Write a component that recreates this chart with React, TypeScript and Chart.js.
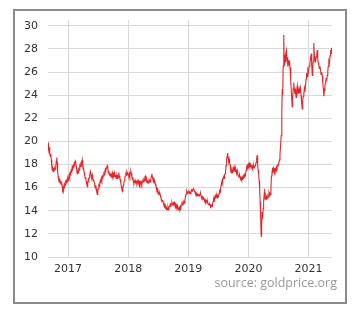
import React, { useEffect, useRef } from "react";
import { Chart, registerables } from "chart.js";

Chart.register(...registerables);

// Tick labels
const yTicks = [10, 12, 14, 16, 18, 20, 22, 24, 26, 28, 30];
const xTicks = [2017, 2018, 2019, 2020, 2021];
const xMin = 2016.667;
const xMax = 2021.39;
const yMin = 10;
const yMax = 30.5;
const sourceLabel = "source: goldprice.org";

// Silver price (USD/oz), [decimal year, price]
const silver2016: [number, number][] = [
  [2016.667, 19.9], [2016.672, 19.2], [2016.678, 19.8], [2016.685, 19.0], [2016.692, 19.5],
  [2016.7, 18.9], [2016.708, 18.7], [2016.715, 18.9], [2016.722, 18.4], [2016.73, 17.8],
  [2016.738, 17.5], [2016.747, 17.6], [2016.755, 17.4], [2016.763, 17.6], [2016.772, 17.5],
  [2016.78, 17.7], [2016.788, 17.6], [2016.797, 17.9], [2016.805, 18.3], [2016.813, 18.6],
  [2016.82, 18.2], [2016.827, 17.4], [2016.835, 17.0], [2016.843, 16.7], [2016.852, 16.5],
  [2016.86, 16.8], [2016.868, 16.4], [2016.877, 16.6], [2016.885, 16.3], [2016.893, 16.5],
  [2016.902, 16.1], [2016.91, 15.9], [2016.918, 16.1], [2016.927, 15.8], [2016.935, 16.0],
  [2016.943, 16.3], [2016.952, 16.2], [2016.96, 16.5], [2016.968, 16.4], [2016.977, 16.6],
  [2016.985, 16.5], [2016.993, 16.8],
];

const silver2017: [number, number][] = [
  [2017.003, 16.6], [2017.012, 16.9], [2017.02, 17.1], [2017.028, 16.9], [2017.037, 17.3],
  [2017.045, 17.2], [2017.053, 17.5], [2017.062, 17.4], [2017.07, 17.8], [2017.078, 17.7],
  [2017.087, 17.9], [2017.095, 17.8], [2017.103, 18.1], [2017.112, 18.0], [2017.12, 18.3],
  [2017.128, 18.2], [2017.137, 17.8], [2017.145, 17.5], [2017.153, 17.2], [2017.162, 17.4],
  [2017.17, 17.3], [2017.178, 17.6], [2017.187, 17.5], [2017.195, 17.9], [2017.203, 17.8],
  [2017.212, 18.1], [2017.22, 18.2], [2017.228, 18.0], [2017.237, 18.4], [2017.245, 18.1],
  [2017.253, 17.7], [2017.262, 17.5], [2017.27, 17.3], [2017.278, 17.0], [2017.287, 16.8],
  [2017.295, 16.9], [2017.303, 16.5], [2017.312, 16.3], [2017.32, 16.1], [2017.328, 16.4],
  [2017.337, 16.7], [2017.345, 16.6], [2017.353, 16.9], [2017.362, 17.1], [2017.37, 17.4],
  [2017.378, 17.2], [2017.387, 17.0], [2017.395, 16.9], [2017.403, 17.1], [2017.412, 16.8],
  [2017.42, 16.6], [2017.428, 16.7], [2017.437, 16.4], [2017.445, 16.2], [2017.453, 16.0],
  [2017.462, 16.2], [2017.47, 15.9], [2017.478, 15.6], [2017.487, 15.4], [2017.495, 15.7],
  [2017.503, 15.9], [2017.512, 16.2], [2017.52, 16.1], [2017.528, 16.4], [2017.537, 16.6],
  [2017.545, 16.5], [2017.553, 16.8], [2017.562, 16.6], [2017.57, 17.0], [2017.578, 16.9],
  [2017.587, 17.0], [2017.595, 17.2], [2017.603, 17.1], [2017.612, 17.4], [2017.62, 17.6],
  [2017.628, 17.5], [2017.637, 17.7], [2017.645, 17.8], [2017.653, 17.9], [2017.662, 17.6],
  [2017.67, 17.3], [2017.678, 17.4], [2017.687, 17.1], [2017.695, 17.3], [2017.703, 17.0],
  [2017.712, 17.2], [2017.72, 16.9], [2017.728, 17.1], [2017.737, 17.3], [2017.745, 17.0],
  [2017.753, 17.2], [2017.762, 17.1], [2017.77, 17.3], [2017.778, 17.0], [2017.787, 16.9],
  [2017.795, 17.1], [2017.803, 16.8], [2017.812, 17.0], [2017.82, 16.8], [2017.828, 17.0],
  [2017.837, 16.9], [2017.845, 17.3], [2017.853, 17.0], [2017.862, 16.8], [2017.87, 16.7],
  [2017.878, 16.4], [2017.887, 16.1], [2017.895, 15.9], [2017.903, 15.7], [2017.912, 15.9],
  [2017.92, 16.2], [2017.928, 16.4], [2017.937, 16.6], [2017.945, 16.9], [2017.953, 17.0],
  [2017.962, 17.2], [2017.97, 17.1], [2017.978, 17.3], [2017.987, 17.1], [2017.995, 17.2],
];

const silver2018: [number, number][] = [
  [2018.003, 17.1], [2018.012, 16.9], [2018.02, 17.2], [2018.028, 17.0], [2018.037, 17.3],
  [2018.045, 17.4], [2018.053, 17.2], [2018.062, 16.9], [2018.07, 16.7], [2018.078, 16.9],
  [2018.087, 16.5], [2018.095, 16.4], [2018.103, 16.6], [2018.112, 16.5], [2018.12, 16.4],
  [2018.128, 16.6], [2018.137, 16.5], [2018.145, 16.4], [2018.153, 16.6], [2018.162, 16.5],
  [2018.17, 16.6], [2018.178, 16.4], [2018.187, 16.5], [2018.195, 16.3], [2018.203, 16.5],
  [2018.212, 16.4], [2018.22, 16.5], [2018.228, 16.3], [2018.237, 16.5], [2018.245, 16.6],
  [2018.253, 16.5], [2018.262, 16.7], [2018.27, 16.6], [2018.278, 16.9], [2018.287, 17.0],
  [2018.295, 16.7], [2018.303, 16.5], [2018.312, 16.6], [2018.32, 16.4], [2018.328, 16.5],
  [2018.337, 16.4], [2018.345, 16.6], [2018.353, 16.5], [2018.362, 16.6], [2018.37, 16.5],
  [2018.378, 16.8], [2018.387, 17.0], [2018.395, 17.2], [2018.403, 16.9], [2018.412, 16.7],
  [2018.42, 16.5], [2018.428, 16.6], [2018.437, 16.4], [2018.445, 16.5], [2018.453, 16.3],
  [2018.462, 16.1], [2018.47, 16.0], [2018.478, 15.8], [2018.487, 15.9], [2018.495, 15.7],
  [2018.503, 15.6], [2018.512, 15.5], [2018.52, 15.4], [2018.528, 15.5], [2018.537, 15.3],
  [2018.545, 15.1], [2018.553, 15.0], [2018.562, 15.0], [2018.57, 14.8], [2018.578, 14.9],
  [2018.587, 14.6], [2018.595, 14.5], [2018.603, 14.3], [2018.612, 14.4], [2018.62, 14.2],
  [2018.628, 14.3], [2018.637, 14.1], [2018.645, 14.2], [2018.653, 14.1], [2018.662, 14.3],
  [2018.67, 14.1], [2018.678, 14.3], [2018.687, 14.4], [2018.695, 14.5], [2018.703, 14.6],
  [2018.712, 14.5], [2018.72, 14.6], [2018.728, 14.7], [2018.737, 14.5], [2018.745, 14.6],
  [2018.753, 14.7], [2018.762, 14.6], [2018.77, 14.7], [2018.778, 14.5], [2018.787, 14.6],
  [2018.795, 14.4], [2018.803, 14.5], [2018.812, 14.3], [2018.82, 14.2], [2018.828, 14.3],
  [2018.837, 14.1], [2018.845, 14.2], [2018.853, 14.3], [2018.862, 14.2], [2018.87, 14.4],
  [2018.878, 14.3], [2018.887, 14.5], [2018.895, 14.6], [2018.903, 14.5], [2018.912, 14.7],
  [2018.92, 14.6], [2018.928, 14.8], [2018.937, 14.7], [2018.945, 15.0], [2018.953, 15.2],
  [2018.962, 15.4], [2018.97, 15.5], [2018.978, 15.7], [2018.987, 15.5], [2018.995, 15.6],
];

const silver2019: [number, number][] = [
  [2019.003, 15.7], [2019.012, 15.6], [2019.02, 15.5], [2019.028, 15.6], [2019.037, 15.5],
  [2019.045, 15.7], [2019.053, 15.8], [2019.062, 15.7], [2019.07, 15.9], [2019.078, 15.8],
  [2019.087, 15.9], [2019.095, 15.8], [2019.103, 15.7], [2019.112, 15.6], [2019.12, 15.4],
  [2019.128, 15.6], [2019.137, 15.5], [2019.145, 15.3], [2019.153, 15.4], [2019.162, 15.3],
  [2019.17, 15.5], [2019.178, 15.4], [2019.187, 15.3], [2019.195, 15.4], [2019.203, 15.5],
  [2019.212, 15.3], [2019.22, 15.2], [2019.228, 15.1], [2019.237, 15.2], [2019.245, 15.0],
  [2019.253, 15.1], [2019.262, 15.0], [2019.27, 14.9], [2019.278, 15.0], [2019.287, 14.8],
  [2019.295, 14.9], [2019.303, 14.8], [2019.312, 14.7], [2019.32, 14.8], [2019.328, 14.6],
  [2019.337, 14.6], [2019.345, 14.5], [2019.353, 14.6], [2019.362, 14.5], [2019.37, 14.4],
  [2019.378, 14.5], [2019.387, 14.4], [2019.395, 14.4], [2019.403, 14.6], [2019.412, 14.8],
  [2019.42, 15.0], [2019.428, 15.2], [2019.437, 15.0], [2019.445, 15.1], [2019.453, 15.3],
  [2019.462, 15.2], [2019.47, 15.3], [2019.478, 15.1], [2019.487, 15.3], [2019.495, 15.2],
  [2019.503, 15.3], [2019.512, 15.5], [2019.52, 15.7], [2019.528, 15.6], [2019.537, 15.9],
  [2019.545, 16.2], [2019.553, 16.4], [2019.562, 16.6], [2019.57, 16.4], [2019.578, 16.8],
  [2019.587, 16.9], [2019.595, 16.8], [2019.603, 17.1], [2019.612, 17.2], [2019.62, 17.4],
  [2019.628, 17.9], [2019.637, 18.4], [2019.645, 18.7], [2019.653, 19.0], [2019.662, 18.6],
  [2019.67, 18.3], [2019.678, 18.5], [2019.687, 18.1], [2019.695, 18.0], [2019.703, 17.6],
  [2019.712, 17.3], [2019.72, 17.5], [2019.728, 17.3], [2019.737, 17.5], [2019.745, 17.7],
  [2019.753, 17.6], [2019.762, 17.8], [2019.77, 17.5], [2019.778, 17.4], [2019.787, 17.6],
  [2019.795, 17.4], [2019.803, 17.3], [2019.812, 17.5], [2019.82, 17.2], [2019.828, 17.1],
  [2019.837, 17.0], [2019.845, 16.9], [2019.853, 17.1], [2019.862, 16.9], [2019.87, 16.8],
  [2019.878, 16.9], [2019.887, 16.7], [2019.895, 16.7], [2019.903, 16.9], [2019.912, 16.8],
  [2019.92, 17.0], [2019.928, 16.9], [2019.937, 17.1], [2019.945, 17.0], [2019.953, 17.2],
  [2019.962, 17.5], [2019.97, 17.8], [2019.978, 17.9], [2019.987, 17.8], [2019.995, 18.0],
];

const silver2020: [number, number][] = [
  [2020.003, 17.9], [2020.012, 18.1], [2020.02, 17.9], [2020.028, 17.8], [2020.037, 18.0],
  [2020.045, 17.9], [2020.053, 17.8], [2020.062, 17.9], [2020.07, 17.7], [2020.078, 17.8],
  [2020.087, 17.9], [2020.095, 17.7], [2020.103, 17.8], [2020.112, 17.9], [2020.12, 18.0],
  [2020.128, 18.2], [2020.137, 18.5], [2020.145, 18.8], [2020.153, 18.0], [2020.162, 17.5],
  [2020.17, 17.2], [2020.178, 16.6], [2020.187, 15.9], [2020.195, 14.8], [2020.203, 13.5],
  [2020.212, 11.8], [2020.22, 12.6], [2020.228, 13.9], [2020.237, 13.3], [2020.245, 14.2],
  [2020.253, 14.8], [2020.262, 15.4], [2020.267, 15.9], [2020.275, 15.2], [2020.283, 15.0],
  [2020.292, 15.2], [2020.3, 15.0], [2020.308, 15.2], [2020.317, 15.1], [2020.325, 15.3],
  [2020.333, 15.2], [2020.342, 15.5], [2020.35, 15.3], [2020.358, 15.5], [2020.367, 15.4],
  [2020.375, 16.0], [2020.383, 17.0], [2020.392, 17.3], [2020.4, 17.6], [2020.408, 17.5],
  [2020.417, 17.7], [2020.425, 17.5], [2020.433, 17.6], [2020.442, 17.4], [2020.45, 17.6],
  [2020.458, 17.5], [2020.467, 17.8], [2020.475, 17.7], [2020.483, 17.9], [2020.492, 18.0],
  [2020.5, 18.2], [2020.508, 18.1], [2020.517, 18.4], [2020.525, 18.9], [2020.535, 19.6],
  [2020.545, 20.5], [2020.555, 22.5], [2020.563, 24.5], [2020.57, 24.0], [2020.578, 26.5],
  [2020.588, 29.2], [2020.595, 26.6], [2020.603, 27.5], [2020.612, 26.9], [2020.62, 27.6],
  [2020.633, 27.9], [2020.642, 27.0], [2020.65, 27.3], [2020.658, 26.7], [2020.667, 26.9],
  [2020.675, 26.6], [2020.683, 27.0], [2020.692, 26.4], [2020.7, 26.0], [2020.708, 25.2],
  [2020.717, 24.0], [2020.728, 23.0], [2020.735, 23.8], [2020.745, 24.6], [2020.755, 25.1],
  [2020.763, 24.5], [2020.772, 24.1], [2020.783, 24.4], [2020.792, 23.8], [2020.8, 24.3],
  [2020.812, 24.8], [2020.82, 24.3], [2020.828, 24.5], [2020.838, 24.1], [2020.847, 24.5],
  [2020.855, 24.2], [2020.867, 24.6], [2020.875, 24.0], [2020.883, 23.5], [2020.895, 22.8],
  [2020.903, 23.5], [2020.912, 23.9], [2020.922, 24.1], [2020.93, 24.6], [2020.94, 24.3],
  [2020.95, 24.8], [2020.958, 25.4], [2020.967, 25.9], [2020.978, 25.6], [2020.988, 26.2],
];

const silver2021: [number, number][] = [
  [2021.0, 26.0], [2021.01, 26.5], [2021.022, 26.7], [2021.033, 27.2], [2021.045, 27.6],
  [2021.053, 26.6], [2021.062, 25.7], [2021.07, 26.4], [2021.078, 26.9], [2021.088, 28.5],
  [2021.097, 27.4], [2021.105, 27.0], [2021.117, 26.9], [2021.127, 27.3], [2021.137, 27.6],
  [2021.145, 27.9], [2021.153, 27.2], [2021.162, 26.8], [2021.172, 26.6], [2021.18, 26.3],
  [2021.19, 26.5], [2021.2, 26.2], [2021.208, 25.8], [2021.218, 26.0], [2021.228, 25.7],
  [2021.237, 25.0], [2021.245, 24.6], [2021.255, 23.9], [2021.263, 24.4], [2021.272, 24.8],
  [2021.283, 25.1], [2021.292, 25.4], [2021.302, 25.3], [2021.312, 25.7], [2021.32, 26.1],
  [2021.328, 26.5], [2021.338, 26.9], [2021.347, 26.7], [2021.357, 27.4], [2021.367, 27.9],
  [2021.375, 27.6], [2021.383, 28.1],
];

const TICK_FONT = { family: "'DejaVu Sans', Verdana, sans-serif", size: 11 };

export default function App() {
  const ref = useRef<HTMLCanvasElement>(null);

  useEffect(() => {
    if (!ref.current) return;
    const points = [
      ...silver2016, ...silver2017, ...silver2018, ...silver2019, ...silver2020, ...silver2021,
    ].map(([x, y]) => ({ x, y }));

    const chart = new Chart(ref.current, {
      type: "line",
      data: {
        datasets: [
          {
            data: points,
            borderColor: "#e3262b",
            borderWidth: 1.1,
            pointRadius: 0,
            tension: 0,
            fill: false,
          },
        ],
      },
      options: {
        animation: false,
        responsive: false,
        maintainAspectRatio: false,
        events: [],
        layout: { padding: { left: 0, right: 26, top: 20, bottom: 0 } },
        plugins: { legend: { display: false }, tooltip: { enabled: false } },
        scales: {
          x: {
            type: "linear",
            min: xMin,
            max: xMax,
            afterBuildTicks: (s: any) => {
              s.ticks = xTicks.map((v) => ({ value: v }));
            },
            afterFit: (s: any) => {
              s.height = 55;
            },
            grid: { color: "#d9d9d9", lineWidth: 1, drawTicks: false },
            border: { display: false },
            ticks: {
              padding: 6,
              color: "#333",
              font: TICK_FONT,
              maxRotation: 0,
              autoSkip: false,
              callback: (v: any) => String(v),
            },
          },
          y: {
            type: "linear",
            min: yMin,
            max: yMax,
            afterBuildTicks: (s: any) => {
              s.ticks = yTicks.map((v) => ({ value: v }));
            },
            afterFit: (s: any) => {
              s.width = 48;
            },
            grid: { color: "#d9d9d9", lineWidth: 1, drawTicks: false },
            border: { display: false },
            ticks: {
              padding: 10,
              color: "#333",
              font: TICK_FONT,
              callback: (v: any) => String(v),
            },
          },
        },
      },
    });
    return () => chart.destroy();
  }, []);

  return (
    <div style={{ position: "absolute", left: 0, top: 0, width: 358, height: 312, background: "#fff" }}>
      <div
        style={{
          position: "absolute",
          left: 13,
          top: 9,
          width: 334,
          height: 295,
          boxSizing: "border-box",
          border: "2px solid #8a8a8a",
        }}
      />
      <canvas
        ref={ref}
        width={358}
        height={312}
        style={{ position: "absolute", left: 0, top: 0, width: 358, height: 312, display: "block" }}
      />
      <div
        style={{
          position: "absolute",
          right: 21,
          top: 275,
          fontFamily: "'Open Sans', sans-serif",
          fontSize: 12.5,
          lineHeight: "16px",
          color: "#999",
          whiteSpace: "nowrap",
        }}
      >
        {sourceLabel}
      </div>
    </div>
  );
}
